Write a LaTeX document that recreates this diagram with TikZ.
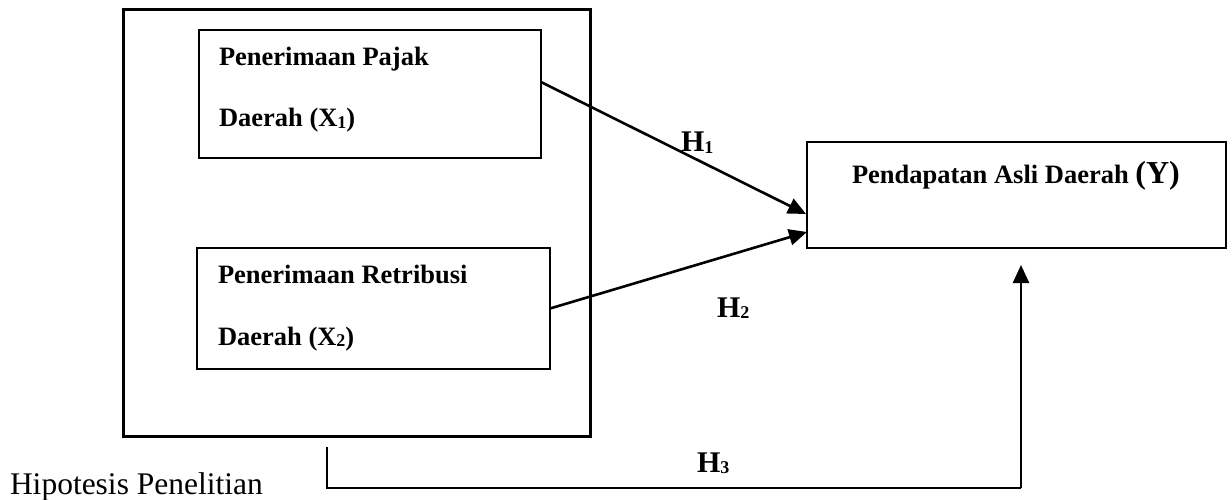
\documentclass[tikz,border=0pt]{standalone}
\usepackage{fontspec}
\setmainfont{Liberation Serif}
\usetikzlibrary{arrows.meta}
\newcommand{\boxfont}{\fontsize{26.5}{30}\selectfont\bfseries}
\newcommand{\hfont}{\fontsize{30}{34}\selectfont\bfseries}
\newcommand{\smallsub}[1]{\raisebox{-1.5pt}{\fontsize{18}{20}\selectfont #1}}
\begin{document}
\begin{tikzpicture}[x=1pt,y=-1pt,
  txt/.style={anchor=base west, inner sep=0pt, outer sep=0pt},
  boxtxt/.style={txt, font=\boxfont},
  hlabel/.style={txt, font=\hfont},
  varbox/.style={draw, line width=2pt, inner sep=0pt, outer sep=0pt},
  link/.style={line width=2.6pt, -{Triangle[length=18pt,width=16pt]}},
  bottomline/.style={line width=2.8pt}
]
\useasboundingbox (0,0) rectangle (1232,500);
% outer frame
\draw[line width=3pt] (123,10) rectangle (590,436);
% boxes
\node[varbox, minimum width=342pt, minimum height=128pt] (box1) at (370,94) {};
\node[varbox, minimum width=353pt, minimum height=121pt] (box2) at (373.5,308.5) {};
\node[varbox, line width=2.4pt, minimum width=419pt, minimum height=106pt] (ybox) at (1016.5,195) {};
% texts
\node[boxtxt] (t1a) at (219,66) {Penerimaan Pajak};
\node[boxtxt] (t1b) at (219,127) {Daerah (X\smallsub{1})};
\node[boxtxt] (t2a) at (218,283) {Penerimaan Retribusi};
\node[boxtxt] (t2b) at (218,345) {Daerah (X\smallsub{2})};
\node[boxtxt] (ty) at (852,183) {Pendapatan Asli Daerah {\fontsize{32}{34}\selectfont(Y)}};
\node[hlabel] (h1) at (681,152) {H\smallsub{1}};
\node[hlabel] (h2) at (717,317) {H\smallsub{2}};
\node[hlabel] (h3) at (697,472) {H\smallsub{3}};
\node[txt, font=\fontsize{31.5}{35}\selectfont] (cap) at (10,494) {Hipotesis Penelitian};
% connectors
\draw[link] ([yshift=12pt]box1.east) -- ([xshift=-1pt,yshift=-19pt]ybox.west);
\draw[link] (box2.east) -- ([yshift=-37pt]ybox.west);
\coordinate (b0) at (327,447);
\coordinate (b1) at (327,488);
\coordinate (b2) at (1021,488);
\coordinate (b3) at ([yshift=-17pt]ybox.south -| b2);
\draw[bottomline] (b0) -- (b1) -- (b2);
\draw[link] (b2) -- (b3);
\end{tikzpicture}
\end{document}
